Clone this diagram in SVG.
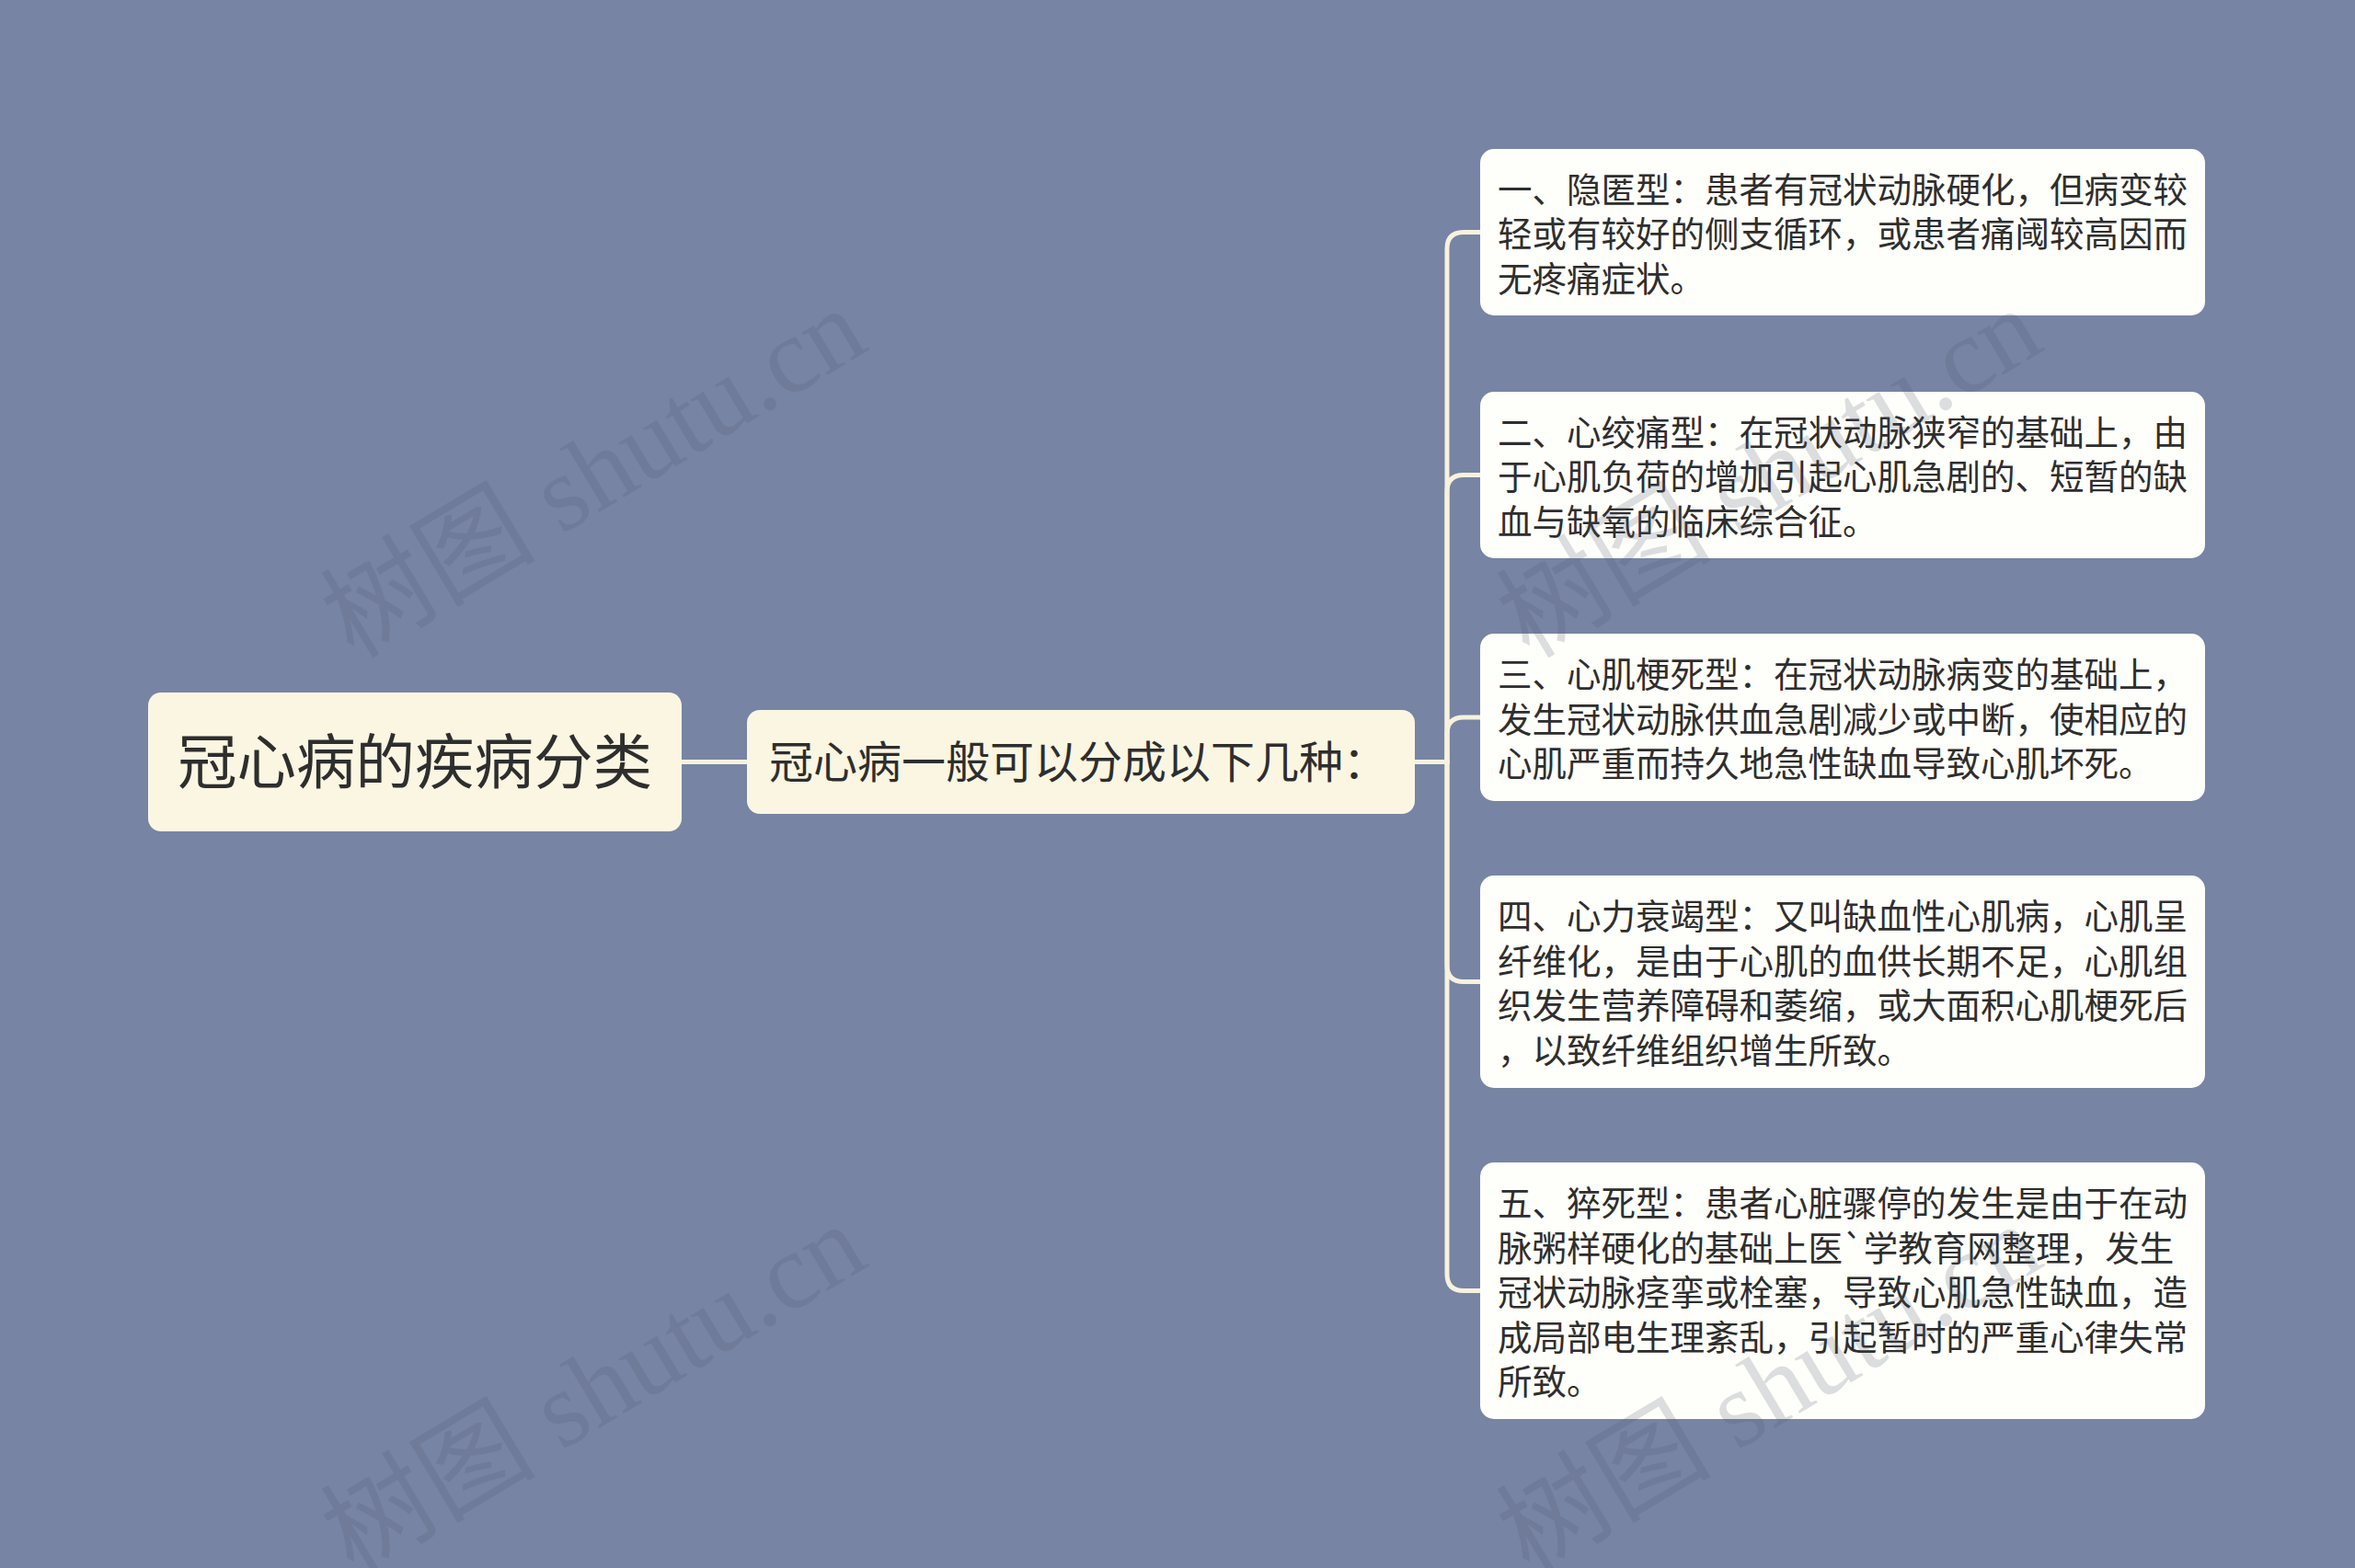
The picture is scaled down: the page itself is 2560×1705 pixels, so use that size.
<svg xmlns="http://www.w3.org/2000/svg" width="2560" height="1705" viewBox="0 0 2560 1705">
<style>
.bg{fill:#7784a4}
.main{fill:#faf6e2}
.leaf{fill:#fefefa}
.t{font-family:"Noto Sans CJK SC","Noto Sans",sans-serif;fill:#2e2e2e}
.lt{font-size:37.5px}
.conn{fill:none;stroke:#f7f2dd;stroke-width:5}
.wm{font-family:"Liberation Serif","Noto Sans CJK SC",serif;font-size:117px;fill:#4e5870;fill-opacity:0.2;text-anchor:middle}
</style>
<rect class="bg" x="0" y="0" width="2560" height="1705"/>
<g id="connectors">
<path class="conn" d="M741,828.5 H812"/>
<path class="conn" d="M1538,828.5 H1573 V270.5 Q1573,252.5 1591,252.5 H1609"/>
<path class="conn" d="M1538,828.5 H1573 V534.5 Q1573,516.5 1591,516.5 H1609"/>
<path class="conn" d="M1538,828.5 H1573 V798 Q1573,780 1591,780 H1609"/>
<path class="conn" d="M1538,828.5 H1573 V1049.5 Q1573,1067.5 1591,1067.5 H1609"/>
<path class="conn" d="M1538,828.5 H1573 V1385.5 Q1573,1403.5 1591,1403.5 H1609"/>
</g>
<g id="root">
<rect class="main" x="161" y="753" width="580" height="151" rx="14"/>
<text class="t" x="451" y="851.5" font-size="64.5" text-anchor="middle">冠心病的疾病分类</text>
</g>
<g id="middle">
<rect class="main" x="812" y="772" width="726" height="113" rx="14"/>
<text class="t" x="836" y="845.5" font-size="48">冠心病一般可以分成以下几种：</text>
</g>
<g id="leaf1">
<rect class="leaf" x="1609" y="162" width="788" height="181" rx="15"/>
<text class="t lt" x="1628" y="219.5">一、隐匿型：患者有冠状动脉硬化，但病变较</text>
<text class="t lt" x="1628" y="268">轻或有较好的侧支循环，或患者痛阈较高因而</text>
<text class="t lt" x="1628" y="316.5">无疼痛症状。</text>
</g>
<g id="leaf2">
<rect class="leaf" x="1609" y="426" width="788" height="181" rx="15"/>
<text class="t lt" x="1628" y="483.5">二、心绞痛型：在冠状动脉狭窄的基础上，由</text>
<text class="t lt" x="1628" y="532">于心肌负荷的增加引起心肌急剧的、短暂的缺</text>
<text class="t lt" x="1628" y="580.5">血与缺氧的临床综合征。</text>
</g>
<g id="leaf3">
<rect class="leaf" x="1609" y="689" width="788" height="182" rx="15"/>
<text class="t lt" x="1628" y="747">三、心肌梗死型：在冠状动脉病变的基础上，</text>
<text class="t lt" x="1628" y="795.5">发生冠状动脉供血急剧减少或中断，使相应的</text>
<text class="t lt" x="1628" y="844">心肌严重而持久地急性缺血导致心肌坏死。</text>
</g>
<g id="leaf4">
<rect class="leaf" x="1609" y="952" width="788" height="231" rx="15"/>
<text class="t lt" x="1628" y="1010.3">四、心力衰竭型：又叫缺血性心肌病，心肌呈</text>
<text class="t lt" x="1628" y="1058.8">纤维化，是由于心肌的血供长期不足，心肌组</text>
<text class="t lt" x="1628" y="1107.3">织发生营养障碍和萎缩，或大面积心肌梗死后</text>
<text class="t lt" x="1628" y="1155.8">，以致纤维组织增生所致。</text>
</g>
<g id="leaf5">
<rect class="leaf" x="1609" y="1264" width="788" height="279" rx="15"/>
<text class="t lt" x="1628" y="1322">五、猝死型：患者心脏骤停的发生是由于在动</text>
<text class="t lt" x="1628" y="1370.5">脉粥样硬化的基础上医`学教育网整理，发生</text>
<text class="t lt" x="1628" y="1419">冠状动脉痉挛或栓塞，导致心肌急性缺血，造</text>
<text class="t lt" x="1628" y="1467.5">成局部电生理紊乱，引起暂时的严重心律失常</text>
<text class="t lt" x="1628" y="1516">所致。</text>
</g>
<g id="watermarks">
<text class="wm" transform="translate(645,514) rotate(-31)" y="40">树图 shutu.cn</text>
<text class="wm" transform="translate(645,1510) rotate(-31)" y="40">树图 shutu.cn</text>
<text class="wm" transform="translate(1923,514) rotate(-31)" y="40">树图 shutu.cn</text>
<text class="wm" transform="translate(1923,1510) rotate(-31)" y="40">树图 shutu.cn</text>
</g>
</svg>
